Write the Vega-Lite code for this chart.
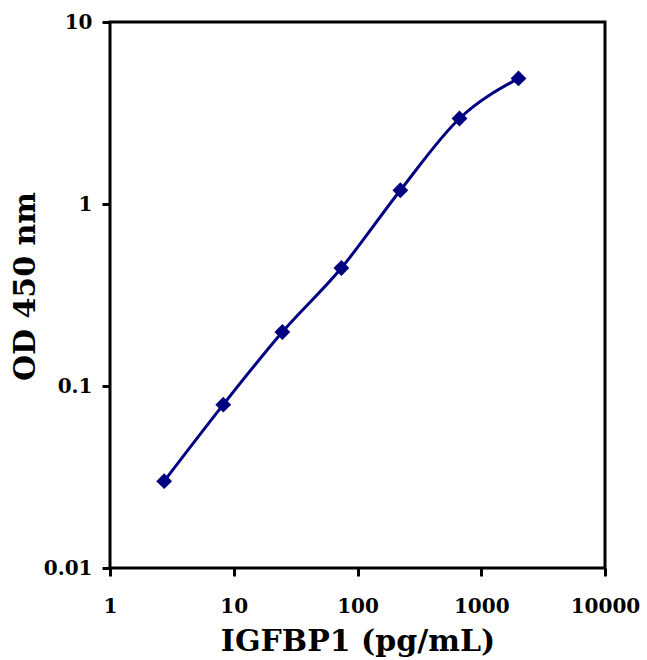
{
  "$schema": "https://vega.github.io/schema/vega-lite/v6.json",
  "width": 495,
  "height": 546,
  "autosize": "none",
  "padding": {"left": 110, "top": 22, "right": 42, "bottom": 92},
  "background": "white",
  "config": {
    "view": {"stroke": "black", "strokeWidth": 3},
    "axis": {
      "domain": false,
      "grid": false,
      "tickColor": "black",
      "tickWidth": 3,
      "tickSize": 8,
      "labelFont": "DejaVu Serif",
      "labelFontWeight": "bold",
      "labelFontSize": 20,
      "labelColor": "black",
      "titleFont": "DejaVu Serif",
      "titleFontWeight": "bold",
      "titleFontSize": 30,
      "titleColor": "black"
    }
  },
  "data": {
    "values": [
      {"conc": 2.74, "od": 0.03},
      {"conc": 8.23, "od": 0.079},
      {"conc": 24.7, "od": 0.198},
      {"conc": 74.1, "od": 0.445},
      {"conc": 222, "od": 1.19},
      {"conc": 667, "od": 2.95},
      {"conc": 2000, "od": 4.9}
    ]
  },
  "encoding": {
    "x": {
      "field": "conc",
      "type": "quantitative",
      "scale": {"type": "log", "domain": [1, 10000], "nice": false},
      "axis": {"title": "IGFBP1 (pg/mL)", "values": [1, 10, 100, 1000, 10000], "format": "d", "labelPadding": 20, "titlePadding": 10, "labelFlush": false}
    },
    "y": {
      "field": "od",
      "type": "quantitative",
      "scale": {"type": "log", "domain": [0.01, 10], "nice": false},
      "axis": {"title": "OD 450 nm", "values": [0.01, 0.1, 1, 10], "format": "~g", "labelPadding": 10, "titleX": -70, "titleY": 264, "labelFlush": false}
    }
  },
  "layer": [
    {"mark": {"type": "line", "color": "#000080", "strokeWidth": 3, "interpolate": "monotone"}},
    {"mark": {"type": "point", "shape": "diamond", "filled": true, "color": "#000080", "size": 250, "opacity": 1}}
  ]
}
